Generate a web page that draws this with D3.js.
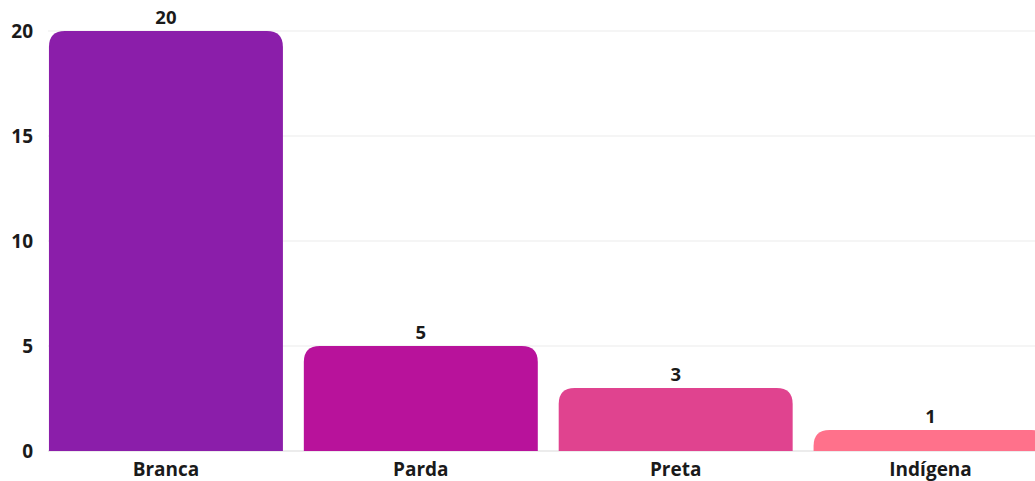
<!DOCTYPE html>
<html>
<head>
<meta charset="utf-8">
<script src="https://cdn.jsdelivr.net/npm/d3@7"></script>
<style>
  body { margin: 0; background: #fff; }
  text { font-family: "Open Sans", sans-serif; font-weight: 700; fill: #1a1a1a; }
</style>
</head>
<body>
<div id="chart"></div>
<script>
// set the dimensions and margins of the graph
var width = 1035,
    height = 481

var margin = {top: 31, right: -23, bottom: 30, left: 38.5}

// data
var categories = ["Branca", "Parda", "Preta", "Indígena"]
var values = [20, 5, 3, 1]
var colors = ["#8b1eaa", "#b8129b", "#e0438f", "#ff718b"]
var yTicks = [0, 5, 10, 15, 20]

var svg = d3.select("#chart")
  .append("svg")
    .attr("width", width)
    .attr("height", height)

var x = d3.scaleBand()
  .domain(categories)
  .range([margin.left, width - margin.right])
  .paddingInner(0.082)
  .paddingOuter(0.041)

var y = d3.scaleLinear()
  .domain([0, 20])
  .range([height - margin.bottom, margin.top])

// gridlines
svg.append("g")
  .selectAll("line")
  .data(yTicks)
  .enter()
  .append("line")
    .attr("x1", 48)
    .attr("x2", width)
    .attr("y1", d => y(d))
    .attr("y2", d => y(d))
    .attr("stroke", d => d === 0 ? "#d9d9d9" : "#ebebeb")
    .attr("stroke-width", 1)

// y tick labels
svg.append("g")
  .selectAll("text")
  .data(yTicks)
  .enter()
  .append("text")
    .attr("x", 33)
    .attr("y", d => y(d))
    .attr("dy", "0.35em")
    .attr("text-anchor", "end")
    .style("font-size", "19px")
    .text(d => d)

// bars with rounded top corners
var r = 16
function barPath(d, i) {
  var x0 = x(categories[i]), w = x.bandwidth()
  var top = y(d), bot = y(0)
  var rr = Math.min(r, (bot - top))
  return "M" + x0 + "," + bot +
    "V" + (top + rr) +
    "Q" + x0 + "," + top + " " + (x0 + rr) + "," + top +
    "H" + (x0 + w - rr) +
    "Q" + (x0 + w) + "," + top + " " + (x0 + w) + "," + (top + rr) +
    "V" + bot + "Z"
}

svg.append("g")
  .selectAll("path")
  .data(values)
  .enter()
  .append("path")
    .attr("d", barPath)
    .attr("fill", (d, i) => colors[i])

// value labels
svg.append("g")
  .selectAll("text")
  .data(values)
  .enter()
  .append("text")
    .attr("x", (d, i) => x(categories[i]) + x.bandwidth() / 2)
    .attr("y", d => y(d) - 7)
    .attr("text-anchor", "middle")
    .style("font-size", "18.5px")
    .text(d => d)

// category labels
svg.append("g")
  .selectAll("text")
  .data(categories)
  .enter()
  .append("text")
    .attr("x", d => x(d) + x.bandwidth() / 2)
    .attr("y", 476)
    .attr("text-anchor", "middle")
    .style("font-size", "19px")
    .text(d => d)
</script>
</body>
</html>
